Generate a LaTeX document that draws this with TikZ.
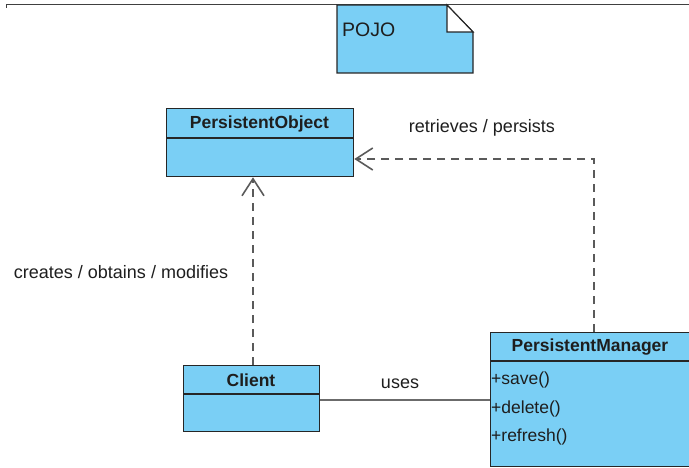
\documentclass[tikz,border=0pt]{standalone}
\usepackage{fontspec}
\setmainfont{Liberation Sans}
\usetikzlibrary{arrows.meta}
\definecolor{classfill}{RGB}{122,207,245}
\definecolor{edgegray}{RGB}{90,90,90}
\definecolor{txt}{RGB}{30,30,30}
\begin{document}
\begin{tikzpicture}[x=1pt,y=-1pt,
  classbox/.style={draw=black!85, line width=1.3pt, fill=classfill, inner sep=0pt},
  divider/.style={draw=black!85, line width=1.1pt},
  title/.style={font=\fontsize{17.5}{20}\selectfont\bfseries, text=txt, inner sep=0pt},
  lbl/.style={font=\fontsize{18}{21}\selectfont, text=txt, inner sep=0pt},
  meth/.style={font=\fontsize{17.5}{20}\selectfont, text=txt, inner sep=0pt, anchor=west},
  dep/.style={draw=edgegray, line width=1.6pt, dash pattern=on 8pt off 6pt,
    -{Straight Barb[length=17pt,width=22pt,line width=1.6pt]}},
  assoc/.style={draw=edgegray!90, line width=2.4pt}
]
\useasboundingbox (0,0) rectangle (689,468);
% frame top line
\coordinate (fl) at (6,5);
\coordinate (fr) at (689,5);
\draw[draw=black!75, line width=1pt] (6,8) -- (fl) -- (fr);
% POJO note
\path[classbox] (337,5) -- (447,5) -- (473,32) -- (473,73) -- (337,73) -- cycle;
\path[draw=black!85, line width=1.1pt, fill=white] (447,5) -- (447,32) -- (473,32) -- cycle;
\node[meth, font=\fontsize{19.5}{22}\selectfont] (note) at (342,30) {POJO};
% PersistentObject
\node[classbox, minimum width=187pt, minimum height=68pt, anchor=north west] (po) at (166,108) {};
\draw[divider] (166,138) -- (353,138);
\node[title] (potitle) at (259.5,124) {PersistentObject};
% Client
\node[classbox, minimum width=136pt, minimum height=66pt, anchor=north west] (client) at (183,365) {};
\draw[divider] (183,394) -- (319,394);
\node[title] (cltitle) at (251,380) {Client};
% PersistentManager
\node[classbox, minimum width=205pt, minimum height=134pt, anchor=north west] (pm) at (490,332) {};
\draw[divider] (490,361) -- (695,361);
\node[title] (pmtitle) at (590,347) {PersistentManager};
\node[meth] (m1) at (491,380) {+save()};
\node[meth] (m2) at (491,409) {+delete()};
\node[meth] (m3) at (491,437) {+refresh()};
% connectors
\coordinate (bend) at (594,159);
\draw[dep] (client.north -| 253,0) -- (po.south -| 253,0);
\draw[dep] (pm.north -| bend) -- (bend) -- (bend -| po.east);
\draw[assoc] (client.east |- 0,400) -- (pm.west |- 0,400);
% labels
\node[lbl] (l1) at (482,128) {retrieves / persists};
\node[lbl] (l2) at (121,272) {creates / obtains / modifies};
\node[lbl] (l3) at (400,384) {uses};
\end{tikzpicture}
\end{document}
